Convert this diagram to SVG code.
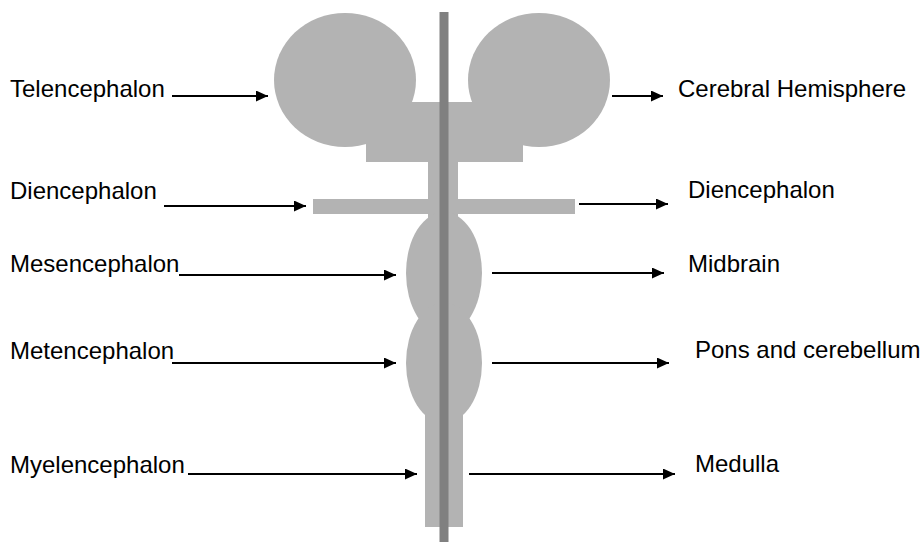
<svg xmlns="http://www.w3.org/2000/svg" width="920" height="544" viewBox="0 0 920 544">
<defs>
<style>
.lt{fill:#b3b3b3}
.dk{fill:#808080}
.lb{font-family:"Liberation Sans",Arial,sans-serif;font-size:24px;fill:#000}
.ar{stroke:#000;stroke-width:2;fill:none;marker-end:url(#ah)}
</style>
<marker id="ah" markerUnits="userSpaceOnUse" markerWidth="12" markerHeight="11" refX="12" refY="5.5" orient="auto">
<path d="M0,0 L12,5.5 L0,11 z" fill="#000"/>
</marker>
</defs>
<rect width="920" height="544" fill="#fff"/>
<g id="brain">
<g id="hemisphere-left"><ellipse class="lt" cx="345" cy="80" rx="71" ry="67"/></g>
<g id="hemisphere-right"><ellipse class="lt" cx="539" cy="80" rx="71" ry="67"/></g>
<g id="forebrain-base"><rect class="lt" x="366" y="102" width="157" height="60"/></g>
<g id="upper-stem"><rect class="lt" x="428" y="160" width="30" height="64"/></g>
<g id="diencephalon-bar"><rect class="lt" x="313" y="199" width="262" height="15"/></g>
<g id="mesencephalon"><ellipse class="lt" cx="444" cy="273" rx="38" ry="61"/></g>
<g id="metencephalon"><ellipse class="lt" cx="444" cy="363" rx="38" ry="60"/></g>
<g id="myelencephalon"><rect class="lt" x="425" y="395" width="38" height="132"/></g>
<g id="midline"><rect class="dk" x="439.5" y="12" width="9" height="530"/></g>
</g>
<g id="labels">
<g id="l-telencephalon"><text class="lb" x="10" y="97">Telencephalon</text></g>
<g id="l-diencephalon"><text class="lb" x="10" y="199">Diencephalon</text></g>
<g id="l-mesencephalon"><text class="lb" x="10" y="272">Mesencephalon</text></g>
<g id="l-metencephalon"><text class="lb" x="10" y="359">Metencephalon</text></g>
<g id="l-myelencephalon"><text class="lb" x="10" y="473">Myelencephalon</text></g>
<g id="r-cerebral"><text class="lb" x="678" y="97">Cerebral Hemisphere</text></g>
<g id="r-diencephalon"><text class="lb" x="688" y="198">Diencephalon</text></g>
<g id="r-midbrain"><text class="lb" x="688" y="272">Midbrain</text></g>
<g id="r-pons"><text class="lb" x="695" y="358">Pons and cerebellum</text></g>
<g id="r-medulla"><text class="lb" x="695" y="472">Medulla</text></g>
</g>
<g id="connectors">
<line class="ar" x1="172" y1="96" x2="268" y2="96"/>
<line class="ar" x1="164" y1="206" x2="306" y2="206"/>
<line class="ar" x1="179" y1="275" x2="396" y2="275"/>
<line class="ar" x1="172" y1="363" x2="396" y2="363"/>
<line class="ar" x1="188" y1="474" x2="417" y2="474"/>
<line class="ar" x1="612" y1="96" x2="663" y2="96"/>
<line class="ar" x1="579" y1="204" x2="668" y2="204"/>
<line class="ar" x1="492" y1="273" x2="664" y2="273"/>
<line class="ar" x1="492" y1="363" x2="669" y2="363"/>
<line class="ar" x1="469" y1="474" x2="675" y2="474"/>
</g>
</svg>
